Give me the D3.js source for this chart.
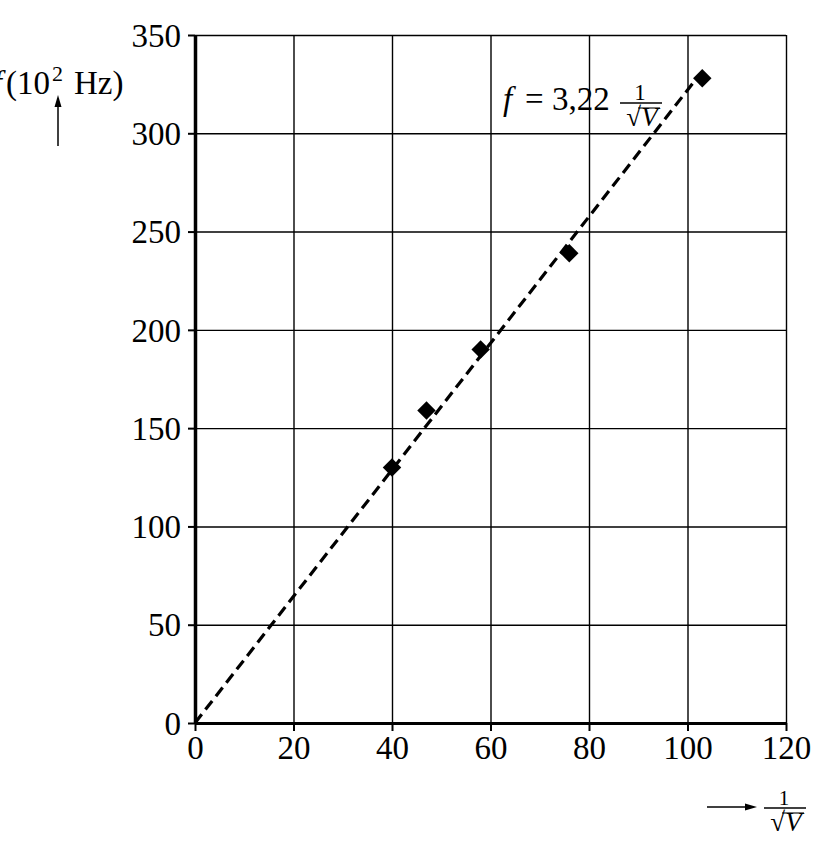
<!DOCTYPE html>
<html lang="en">
<head>
<meta charset="UTF-8">
<title>f versus 1/sqrt(V)</title>
<style>
  body { margin: 0; background: #fff; }
  svg text { font-family: "Liberation Serif", "Times New Roman", serif; fill: #000; }
</style>
</head>
<body>
<script src="https://d3js.org/d3.v7.min.js"></script>
<script>
// measured points (x = 1/sqrt(V), y = f in 10^2 Hz)
const invSqrtV = [40, 47, 58, 76, 103];
const freq = [130, 159, 190, 239, 328];
const xTicks = [0, 20, 40, 60, 80, 100, 120];
const yTicks = [0, 50, 100, 150, 200, 250, 300, 350];
const slope = 3.22;
const fitRange = [0, 102];

const w = 831, h = 860;
const plotLeft = 195, plotRight = 786, plotTop = 35, plotBottom = 723;
const fontSize = 33;

const svg = d3.select("body").append("svg")
    .attr("width", w)
    .attr("height", h);

const x = d3.scaleLinear().domain([0, 120]).range([plotLeft, plotRight]);
const y = d3.scaleLinear().domain([0, 350]).range([plotBottom, plotTop]);

// grid
svg.append("g")
    .attr("transform", "translate(0," + plotBottom + ")")
    .call(d3.axisBottom(x).tickValues(xTicks).tickSize(-(plotBottom - plotTop)).tickFormat(""))
    .call(g => g.select(".domain").remove())
    .selectAll("line").attr("stroke", "#000").attr("stroke-width", 1.4);

svg.append("g")
    .attr("transform", "translate(" + plotLeft + ",0)")
    .call(d3.axisLeft(y).tickValues(yTicks).tickSize(-(plotRight - plotLeft)).tickFormat(""))
    .call(g => g.select(".domain").remove())
    .selectAll("line").attr("stroke", "#000").attr("stroke-width", 1.4);

// axes
const xAxis = svg.append("g")
    .attr("transform", "translate(0," + plotBottom + ")")
    .call(d3.axisBottom(x).tickValues(xTicks).tickSize(8).tickSizeOuter(0).tickPadding(5));
xAxis.select(".domain").attr("stroke-width", 3);
xAxis.selectAll(".tick line").attr("stroke-width", 2);
xAxis.selectAll("text").attr("font-size", fontSize).attr("dy", "0.71em");

const yAxis = svg.append("g")
    .attr("transform", "translate(" + plotLeft + ",0)")
    .call(d3.axisLeft(y).tickValues(yTicks).tickSize(7).tickSizeOuter(0).tickPadding(7));
yAxis.select(".domain").attr("stroke-width", 3.5);
yAxis.selectAll(".tick line").attr("stroke-width", 2);
yAxis.selectAll("text").attr("font-size", fontSize).attr("dy", "0.34em");

svg.selectAll(".domain, .tick line").attr("stroke", "#000");
svg.selectAll(".tick text").attr("fill", "#000").attr("font-family", "Liberation Serif, serif");

// fitted line
const line = d3.line().x(d => x(d)).y(d => y(slope * d));
svg.append("path")
    .attr("d", line(fitRange))
    .attr("fill", "none")
    .attr("stroke", "#000")
    .attr("stroke-width", 3.2)
    .attr("stroke-dasharray", "11,6");

// points
const pts = invSqrtV.map((v, i) => [v, freq[i]]);
svg.selectAll(".pt")
    .data(pts)
    .enter()
    .append("path")
    .attr("class", "pt")
    .attr("d", d3.symbol(d3.symbolSquare, 170))
    .attr("transform", d => "translate(" + x(d[0]) + "," + y(d[1]) + ") rotate(45)")
    .attr("fill", "#000");

// arrow heads
function arrowHead(px, py, dir) {
    const p = dir === "up"
        ? [[px, py], [px - 3.5, py + 12], [px + 3.5, py + 12]]
        : [[px, py], [px - 12, py - 3.5], [px - 12, py + 3.5]];
    svg.append("path").attr("d", d3.line()(p) + "Z").attr("fill", "#000");
}

// y label
svg.append("text").attr("x", 2).attr("y", 94).attr("font-size", fontSize)
    .attr("font-style", "italic").attr("text-anchor", "end").text("f");
const yl = svg.append("text").attr("y", 94).attr("font-size", fontSize);
yl.append("tspan").attr("x", 6).text("(10");
yl.append("tspan").attr("x", 52).attr("font-size", 22).attr("dy", -13).text("2");
yl.append("tspan").attr("x", 74).attr("dy", 13).text("Hz)");
svg.append("line").attr("x1", 58).attr("x2", 58).attr("y1", 146).attr("y2", 104)
    .attr("stroke", "#000").attr("stroke-width", 1.5);
arrowHead(58, 95, "up");

// fraction 1/sqrt(V)
function fraction(cx, barY, numSize) {
    svg.append("text").attr("x", cx - 1).attr("y", barY - 3).attr("font-size", numSize)
        .attr("text-anchor", "middle").text("1");
    svg.append("line").attr("x1", cx - 21).attr("x2", cx + 21).attr("y1", barY).attr("y2", barY)
        .attr("stroke", "#000").attr("stroke-width", 1.3);
    const t = svg.append("text").attr("x", cx + 1).attr("y", barY + 23).attr("font-size", 27)
        .attr("text-anchor", "middle");
    t.append("tspan").text("\u221A");
    t.append("tspan").attr("font-style", "italic").text("V");
    svg.append("line").attr("x1", cx - 3).attr("x2", cx + 19).attr("y1", barY + 5).attr("y2", barY + 5)
        .attr("stroke", "#000").attr("stroke-width", 1.1);
}

// formula
const fm = svg.append("text").attr("y", 110).attr("font-size", fontSize);
fm.append("tspan").attr("x", 503).attr("font-style", "italic").text("f");
fm.append("tspan").attr("x", 525).text("=");
fm.append("tspan").attr("x", 552).text("3,22");
fraction(641, 103, 23);

// x label
svg.append("line").attr("x1", 707).attr("x2", 748).attr("y1", 807).attr("y2", 807)
    .attr("stroke", "#000").attr("stroke-width", 1.5);
arrowHead(757, 807, "right");
fraction(785, 808, 21);
</script>
</body>
</html>
